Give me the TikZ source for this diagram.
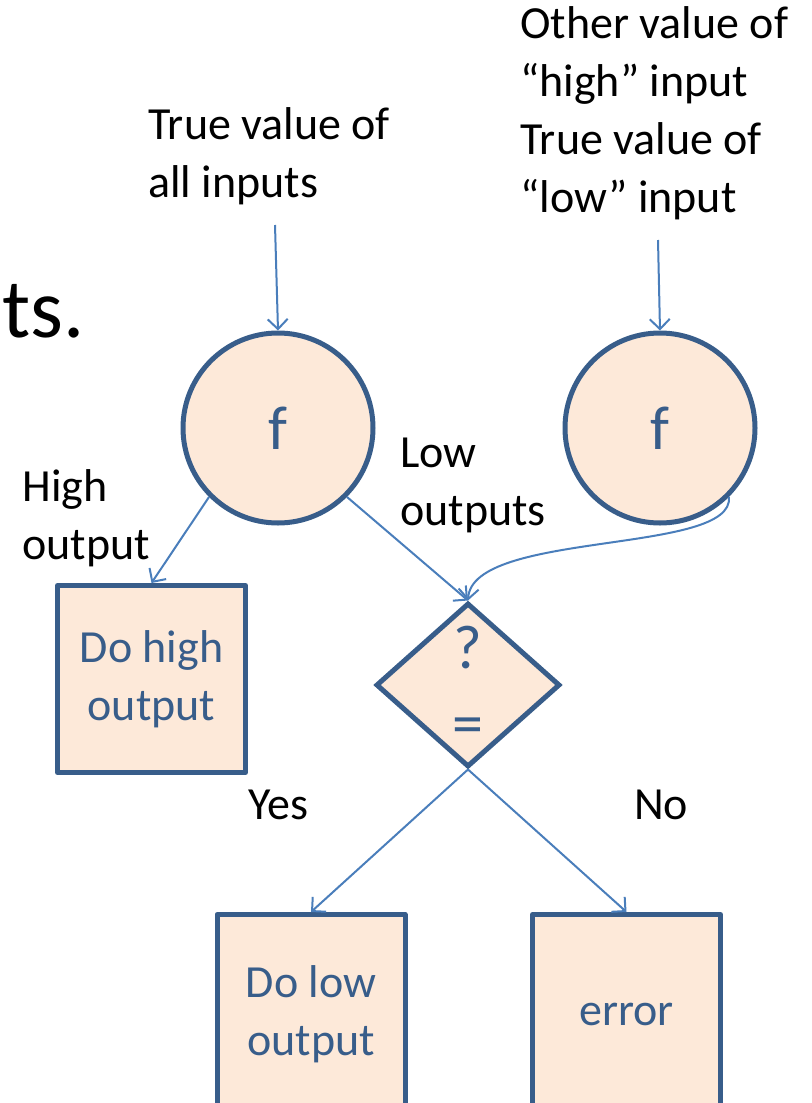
\documentclass[tikz,border=0pt]{standalone}
\usepackage{fontspec}
\setmainfont{Carlito}
\usetikzlibrary{arrows.meta,shapes.geometric}
\definecolor{shapeline}{HTML}{385D8A}
\definecolor{shapefill}{HTML}{FDE9D9}
\definecolor{linkblue}{HTML}{4A7EBB}
\tikzset{
  circ/.style={circle, draw=shapeline, fill=shapefill, line width=2.5pt, minimum size=95pt, inner sep=0pt, text=shapeline, font=\fontsize{31}{35}\selectfont},
  box/.style={rectangle, draw=shapeline, fill=shapefill, line width=2.5pt, line join=round, minimum width=94pt, minimum height=93.5pt, align=center, text=shapeline, font=\fontsize{23}{29}\selectfont},
  decision/.style={diamond, draw=shapeline, fill=shapefill, line width=2.5pt, minimum width=92pt, minimum height=82pt, inner sep=0pt, align=center, text=shapeline, font=\fontsize{31}{35}\selectfont},
  note/.style={align=left, inner sep=0pt, text=black, font=\fontsize{23}{29}\selectfont},
  arrow/.style={-{Straight Barb[length=5pt,width=10pt]}, draw=linkblue, line width=1pt}
}
\begin{document}
\begin{tikzpicture}[x=0.5pt, y=-0.5pt]
\clip (0,0) rectangle (811,1103);
% cut-off title text
\node[anchor=base west, inner sep=0pt, font=\fontsize{42}{50}\selectfont] (title) at (2,337) {ts.};
% functions
\node[circ] (f1) at (278,428) {f};
\node[circ] (f2) at (660,428) {f};
\node[decision] (q) at (468,685) {?\\[3pt]=};
\node[box] (high) at (151.5,679) {Do high\\output};
\node[box, minimum height=100pt] (low) at (311,1014.5) {Do low\\output};
\node[box, minimum height=100pt] (err) at (626.5,1014.5) {error};
% texts
\node[note, anchor=west] (in1) at (148,156) {True value of\\all inputs};
\node[note, anchor=west] (in2) at (520,113) {Other value of\\“high” input\\True value of\\“low” input};
\node[note, anchor=west] (hout) at (22,518) {High\\output};
\node[note, anchor=west] (lout) at (400,485) {Low\\outputs};
\node[note] (yes) at (278,805) {Yes};
\node[note] (no) at (661,805) {No};
\coordinate (s1) at (275,225);
\coordinate (s2) at (658,240);
% arrows
\draw[arrow] (s1) -- (f1.north);
\draw[arrow] (s2) -- (f2.north);
\draw[arrow] (f1.-135) -- (high.north);
\draw[arrow] (f1.-45) -- (q.north);
\draw[arrow] (f2.-45) .. controls (735,555) and (472,530) .. (q.north);
\draw[arrow] (q.south) -- (low.north);
\draw[arrow] (q.south) -- (err.north);
\end{tikzpicture}
\end{document}
